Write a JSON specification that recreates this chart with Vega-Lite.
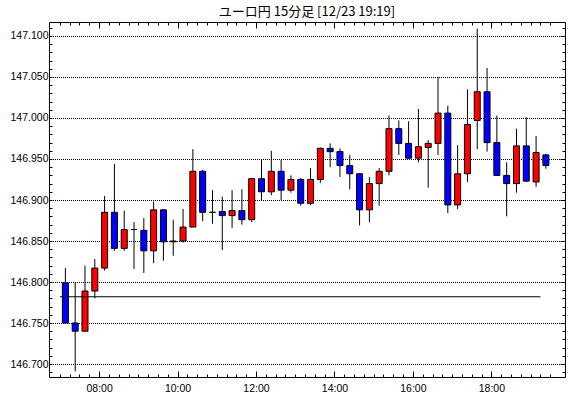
{
  "$schema": "https://vega.github.io/schema/vega-lite/v6.json",
  "width": 516,
  "height": 355,
  "autosize": {"type": "none"},
  "padding": {"left": 49, "top": 22, "right": 5, "bottom": 21},
  "background": "white",
  "title": {"text": "ユーロ円 15分足 [12/23  19:19]", "font": "Noto Sans CJK JP", "fontSize": 13, "fontWeight": "normal", "color": "black", "offset": 3, "anchor": "middle"},
  "config": {
    "view": {"stroke": "black", "strokeWidth": 1},
    "axis": {"domain": false, "labelFont": "Liberation Sans", "labelFontSize": 10.5, "labelColor": "black", "tickColor": "black", "tickWidth": 1, "title": null, "labelOverlap": false, "labelFlush": false, "labelBound": false, "grid": false}
  },
  "datasets": {
    "candles": [
      {"t": "2024-12-23T07:00:00Z", "o": 146.799, "h": 146.817, "l": 146.750, "c": 146.750},
      {"t": "2024-12-23T07:15:00Z", "o": 146.750, "h": 146.800, "l": 146.691, "c": 146.740},
      {"t": "2024-12-23T07:30:00Z", "o": 146.740, "h": 146.820, "l": 146.740, "c": 146.789},
      {"t": "2024-12-23T07:45:00Z", "o": 146.789, "h": 146.828, "l": 146.780, "c": 146.817},
      {"t": "2024-12-23T08:00:00Z", "o": 146.817, "h": 146.905, "l": 146.814, "c": 146.885},
      {"t": "2024-12-23T08:15:00Z", "o": 146.885, "h": 146.944, "l": 146.838, "c": 146.841},
      {"t": "2024-12-23T08:30:00Z", "o": 146.841, "h": 146.887, "l": 146.838, "c": 146.864},
      {"t": "2024-12-23T08:45:00Z", "o": 146.864, "h": 146.873, "l": 146.816, "c": 146.864},
      {"t": "2024-12-23T09:00:00Z", "o": 146.863, "h": 146.878, "l": 146.811, "c": 146.838},
      {"t": "2024-12-23T09:15:00Z", "o": 146.838, "h": 146.898, "l": 146.823, "c": 146.888},
      {"t": "2024-12-23T09:30:00Z", "o": 146.888, "h": 146.889, "l": 146.826, "c": 146.849},
      {"t": "2024-12-23T09:45:00Z", "o": 146.849, "h": 146.876, "l": 146.832, "c": 146.850},
      {"t": "2024-12-23T10:00:00Z", "o": 146.850, "h": 146.889, "l": 146.848, "c": 146.867},
      {"t": "2024-12-23T10:15:00Z", "o": 146.867, "h": 146.962, "l": 146.867, "c": 146.935},
      {"t": "2024-12-23T10:30:00Z", "o": 146.935, "h": 146.937, "l": 146.874, "c": 146.885},
      {"t": "2024-12-23T10:45:00Z", "o": 146.885, "h": 146.912, "l": 146.871, "c": 146.885},
      {"t": "2024-12-23T11:00:00Z", "o": 146.886, "h": 146.904, "l": 146.839, "c": 146.881},
      {"t": "2024-12-23T11:15:00Z", "o": 146.881, "h": 146.912, "l": 146.866, "c": 146.887},
      {"t": "2024-12-23T11:30:00Z", "o": 146.887, "h": 146.913, "l": 146.870, "c": 146.876},
      {"t": "2024-12-23T11:45:00Z", "o": 146.876, "h": 146.927, "l": 146.873, "c": 146.926},
      {"t": "2024-12-23T12:00:00Z", "o": 146.926, "h": 146.949, "l": 146.899, "c": 146.910},
      {"t": "2024-12-23T12:15:00Z", "o": 146.910, "h": 146.960, "l": 146.906, "c": 146.935},
      {"t": "2024-12-23T12:30:00Z", "o": 146.935, "h": 146.949, "l": 146.900, "c": 146.912},
      {"t": "2024-12-23T12:45:00Z", "o": 146.912, "h": 146.930, "l": 146.909, "c": 146.925},
      {"t": "2024-12-23T13:00:00Z", "o": 146.925, "h": 146.927, "l": 146.893, "c": 146.896},
      {"t": "2024-12-23T13:15:00Z", "o": 146.896, "h": 146.939, "l": 146.894, "c": 146.925},
      {"t": "2024-12-23T13:30:00Z", "o": 146.925, "h": 146.964, "l": 146.921, "c": 146.963},
      {"t": "2024-12-23T13:45:00Z", "o": 146.963, "h": 146.969, "l": 146.940, "c": 146.959},
      {"t": "2024-12-23T14:00:00Z", "o": 146.959, "h": 146.963, "l": 146.928, "c": 146.942},
      {"t": "2024-12-23T14:15:00Z", "o": 146.942, "h": 146.955, "l": 146.913, "c": 146.932},
      {"t": "2024-12-23T14:30:00Z", "o": 146.932, "h": 146.933, "l": 146.869, "c": 146.888},
      {"t": "2024-12-23T14:45:00Z", "o": 146.888, "h": 146.928, "l": 146.873, "c": 146.920},
      {"t": "2024-12-23T15:00:00Z", "o": 146.920, "h": 146.939, "l": 146.893, "c": 146.935},
      {"t": "2024-12-23T15:15:00Z", "o": 146.935, "h": 147.003, "l": 146.930, "c": 146.987},
      {"t": "2024-12-23T15:30:00Z", "o": 146.987, "h": 146.997, "l": 146.955, "c": 146.969},
      {"t": "2024-12-23T15:45:00Z", "o": 146.969, "h": 146.996, "l": 146.950, "c": 146.951},
      {"t": "2024-12-23T16:00:00Z", "o": 146.951, "h": 147.011, "l": 146.946, "c": 146.965},
      {"t": "2024-12-23T16:15:00Z", "o": 146.964, "h": 146.973, "l": 146.915, "c": 146.969},
      {"t": "2024-12-23T16:30:00Z", "o": 146.969, "h": 147.050, "l": 146.955, "c": 147.006},
      {"t": "2024-12-23T16:45:00Z", "o": 147.006, "h": 147.015, "l": 146.884, "c": 146.894},
      {"t": "2024-12-23T17:00:00Z", "o": 146.894, "h": 146.967, "l": 146.889, "c": 146.932},
      {"t": "2024-12-23T17:15:00Z", "o": 146.932, "h": 147.035, "l": 146.922, "c": 146.992},
      {"t": "2024-12-23T17:30:00Z", "o": 146.997, "h": 147.109, "l": 146.962, "c": 147.032},
      {"t": "2024-12-23T17:45:00Z", "o": 147.032, "h": 147.061, "l": 146.959, "c": 146.970},
      {"t": "2024-12-23T18:00:00Z", "o": 146.970, "h": 147.003, "l": 146.930, "c": 146.930},
      {"t": "2024-12-23T18:15:00Z", "o": 146.930, "h": 146.946, "l": 146.880, "c": 146.920},
      {"t": "2024-12-23T18:30:00Z", "o": 146.920, "h": 146.987, "l": 146.909, "c": 146.966},
      {"t": "2024-12-23T18:45:00Z", "o": 146.966, "h": 147.001, "l": 146.922, "c": 146.923},
      {"t": "2024-12-23T19:00:00Z", "o": 146.922, "h": 146.978, "l": 146.916, "c": 146.958},
      {"t": "2024-12-23T19:15:00Z", "o": 146.955, "h": 146.956, "l": 146.938, "c": 146.942}
    ],
    "prev": [
      {"start": "2024-12-23T07:00:00Z", "end": "2024-12-23T19:15:00Z", "v": 146.782}
    ]
  },
  "layer": [
    {
      "data": {"name": "candles"},
      "mark": {"type": "rule", "color": "black", "strokeWidth": 1, "xOffset": 5.5},
      "encoding": {
        "x": {"field": "t", "type": "temporal",
              "scale": {"type": "utc", "domain": [1734936660000, 1734983100000], "nice": false},
              "axis": {"orient": "bottom", "offset": -6, "tickSize": 6, "labelExpr": "utcFormat(datum.value, '%H:%M')", "labelPadding": 6,
                       "values": [1734940800000, 1734948000000, 1734955200000, 1734962400000, 1734969600000, 1734976800000]}},
        "y": {"field": "l", "type": "quantitative",
              "scale": {"domain": [146.68415, 147.11707], "zero": false, "nice": false},
              "axis": {"orient": "left", "ticks": false, "grid": true, "gridColor": "#000000", "gridDash": [1, 1], "gridDashOffset": 0.5, "gridWidth": 1,
                       "format": ".3f", "labelPadding": 1,
                       "values": [146.7, 146.75, 146.8, 146.85, 146.9, 146.95, 147, 147.05, 147.1]}},
        "y2": {"field": "h"}
      }
    },
    {
      "data": {"name": "candles"},
      "mark": {"type": "bar", "orient": "vertical", "size": 6, "stroke": "black", "strokeWidth": 1, "xOffset": 5.5},
      "encoding": {
        "x": {"field": "t", "type": "temporal",
              "scale": {"type": "utc", "domain": [1734936660000, 1734983100000], "nice": false},
              "axis": {"orient": "bottom", "offset": -3, "tickSize": 3, "labels": false,
                       "values": [1734937200000,1734938100000,1734939000000,1734939900000,1734940800000,1734941700000,1734942600000,1734943500000,1734944400000,1734945300000,1734946200000,1734947100000,1734948000000,1734948900000,1734949800000,1734950700000,1734951600000,1734952500000,1734953400000,1734954300000,1734955200000,1734956100000,1734957000000,1734957900000,1734958800000,1734959700000,1734960600000,1734961500000,1734962400000,1734963300000,1734964200000,1734965100000,1734966000000,1734966900000,1734967800000,1734968700000,1734969600000,1734970500000,1734971400000,1734972300000,1734973200000,1734974100000,1734975000000,1734975900000,1734976800000,1734977700000,1734978600000,1734979500000,1734980400000,1734981300000,1734982200000]}},
        "y": {"field": "o", "type": "quantitative",
              "scale": {"domain": [146.68415, 147.11707], "zero": false, "nice": false},
              "axis": {"orient": "left", "offset": -3, "tickSize": 3, "labels": false,
                       "values": [146.69,146.7,146.71,146.72,146.73,146.74,146.75,146.76,146.77,146.78,146.79,146.8,146.81,146.82,146.83,146.84,146.85,146.86,146.87,146.88,146.89,146.9,146.91,146.92,146.93,146.94,146.95,146.96,146.97,146.98,146.99,147,147.01,147.02,147.03,147.04,147.05,147.06,147.07,147.08,147.09,147.1,147.11]}},
        "y2": {"field": "c"},
        "color": {"condition": {"test": "datum.c >= datum.o", "value": "#ff0000"}, "value": "#0000ff"}
      }
    },
    {
      "data": {"name": "prev"},
      "mark": {"type": "rule", "color": "black", "strokeWidth": 1},
      "encoding": {
        "x": {"field": "start", "type": "temporal",
              "scale": {"type": "utc", "domain": [1734936660000, 1734983100000], "nice": false},
              "axis": {"orient": "top", "offset": -3, "tickSize": 3, "labels": false,
                       "values": [1734937200000,1734938100000,1734939000000,1734939900000,1734940800000,1734941700000,1734942600000,1734943500000,1734944400000,1734945300000,1734946200000,1734947100000,1734948000000,1734948900000,1734949800000,1734950700000,1734951600000,1734952500000,1734953400000,1734954300000,1734955200000,1734956100000,1734957000000,1734957900000,1734958800000,1734959700000,1734960600000,1734961500000,1734962400000,1734963300000,1734964200000,1734965100000,1734966000000,1734966900000,1734967800000,1734968700000,1734969600000,1734970500000,1734971400000,1734972300000,1734973200000,1734974100000,1734975000000,1734975900000,1734976800000,1734977700000,1734978600000,1734979500000,1734980400000,1734981300000,1734982200000]}},
        "x2": {"field": "end"},
        "y": {"field": "v", "type": "quantitative",
              "scale": {"domain": [146.68415, 147.11707], "zero": false, "nice": false},
              "axis": {"orient": "right", "offset": -3, "tickSize": 3, "labels": false,
                       "values": [146.69,146.7,146.71,146.72,146.73,146.74,146.75,146.76,146.77,146.78,146.79,146.8,146.81,146.82,146.83,146.84,146.85,146.86,146.87,146.88,146.89,146.9,146.91,146.92,146.93,146.94,146.95,146.96,146.97,146.98,146.99,147,147.01,147.02,147.03,147.04,147.05,147.06,147.07,147.08,147.09,147.1,147.11]}}
      }
    },
    {
      "data": {"name": "prev"},
      "mark": {"type": "rule", "opacity": 0},
      "encoding": {
        "x": {"field": "start", "type": "temporal",
              "scale": {"type": "utc", "domain": [1734936660000, 1734983100000], "nice": false},
              "axis": {"orient": "top", "offset": -6, "tickSize": 6, "labels": false,
                       "values": [1734940800000, 1734948000000, 1734955200000, 1734962400000, 1734969600000, 1734976800000]}},
        "x2": {"field": "end"},
        "y": {"field": "v", "type": "quantitative",
              "scale": {"domain": [146.68415, 147.11707], "zero": false, "nice": false},
              "axis": {"orient": "right", "offset": -5, "tickSize": 5, "labels": false,
                       "values": [146.7, 146.75, 146.8, 146.85, 146.9, 146.95, 147, 147.05, 147.1]}}
      }
    }
  ],
  "resolve": {"axis": {"x": "independent", "y": "independent"}}
}
